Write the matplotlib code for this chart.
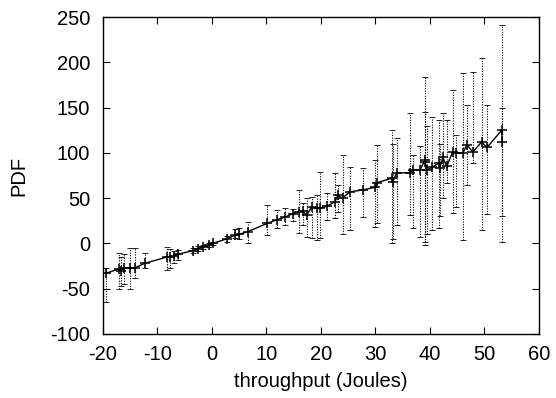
import matplotlib
matplotlib.use("Agg")
import matplotlib.pyplot as plt
import numpy as np

plt.rcParams['font.family'] = ['Liberation Sans', 'DejaVu Sans']
plt.rcParams['axes.unicode_minus'] = False

# throughput (Joules), mean and error range
x = [-19.4, -17.0, -16.6, -16.2, -15.0, -14.1, -12.3, -8.2, -7.7, -7.0,
     -6.2, -3.5, -2.5, -1.7, -0.5, 0.2, 2.7, 4.2, 5.0, 6.6,
     10.1, 11.9, 13.4, 14.9, 16.0, 16.7, 17.4, 18.3, 19.3, 19.8,
     21.1, 22.6, 23.1, 24.0, 25.3, 27.7, 29.9, 30.3, 33.0, 33.2,
     33.9, 36.3, 36.9, 38.2, 39.1, 39.2, 39.4, 40.4, 41.7, 41.8,
     42.4, 43.1, 44.2, 44.8, 46.1, 46.8, 47.9, 49.5, 50.5, 53.2, 53.3]
y = [-33, -28, -30, -27, -27, -27, -22, -15, -15, -14,
     -12, -8, -6, -4, -2, 0, 5, 9, 10, 13,
     22, 26, 29, 33, 35, 36, 31, 40, 39, 39,
     41, 46, 53, 50, 57, 59, 62, 67, 72, 68,
     78, 78, 81, 81, 92, 90, 81, 84, 89, 83,
     95, 85, 101, 100, 100, 109, 101, 112, 106, 125, 112]
y_low = [-65, -50, -47, -45, -50, -38, -27, -29, -27, -22,
         -18, -11, -8, -6, -4, -2, 2, 6, 5, 0,
         9, 17, 20, 25, 11, 20, 7, 6, 4, 6,
         26, 28, 35, 10, 15, 29, 18, 22, 0, 5,
         20, 31, 17, 7, -2, 2, 10, 15, 17, 30,
         50, 67, 34, 40, 4, 65, 89, 15, 33, 2, 30]
y_high = [-27, -11, -15, -12, -5, -5, -11, -4, -6, -8,
          -7, -5, -3, -2, 0, 2, 8, 16, 17, 24,
          42, 37, 39, 38, 59, 45, 50, 51, 53, 79,
          56, 78, 65, 98, 84, 83, 92, 109, 125, 110,
          116, 144, 98, 108, 145, 184, 130, 140, 136, 110,
          144, 136, 169, 120, 188, 153, 189, 205, 153, 241, 150]

xa = np.array(x)
ya = np.array(y)
err = [ya - np.array(y_low), np.array(y_high) - ya]

fig = plt.figure(figsize=(5.56, 3.98), dpi=100)
ax = fig.add_axes([0.185, 0.161, 0.784, 0.796])

eb = ax.errorbar(xa, ya, yerr=err, fmt='none', ecolor='black',
                 elinewidth=0.8, capsize=2, capthick=0.6)
for col in eb[2]:
    col.set_linestyle((0, (1.0, 1.3)))
ax.plot(xa, ya, color='black', linewidth=1.0, marker='+',
        markersize=7, markeredgewidth=1.1)

ax.set_xlim(-20, 60)
ax.set_ylim(-100, 250)
ax.set_xticks(np.arange(-20, 61, 10))
ax.set_yticks(np.arange(-100, 251, 50))
ax.tick_params(direction='in', top=True, right=True, labelsize=14.5, length=5, width=0.8)
ax.tick_params(axis='y', pad=9)
ax.tick_params(axis='x', pad=8)
ax.set_xlabel('throughput (Joules)', fontsize=14.5, labelpad=6)
ax.set_ylabel('PDF', fontsize=14.5, labelpad=16)
for s in ax.spines.values():
    s.set_linewidth(1.0)

fig.savefig('out.png', dpi=100)
